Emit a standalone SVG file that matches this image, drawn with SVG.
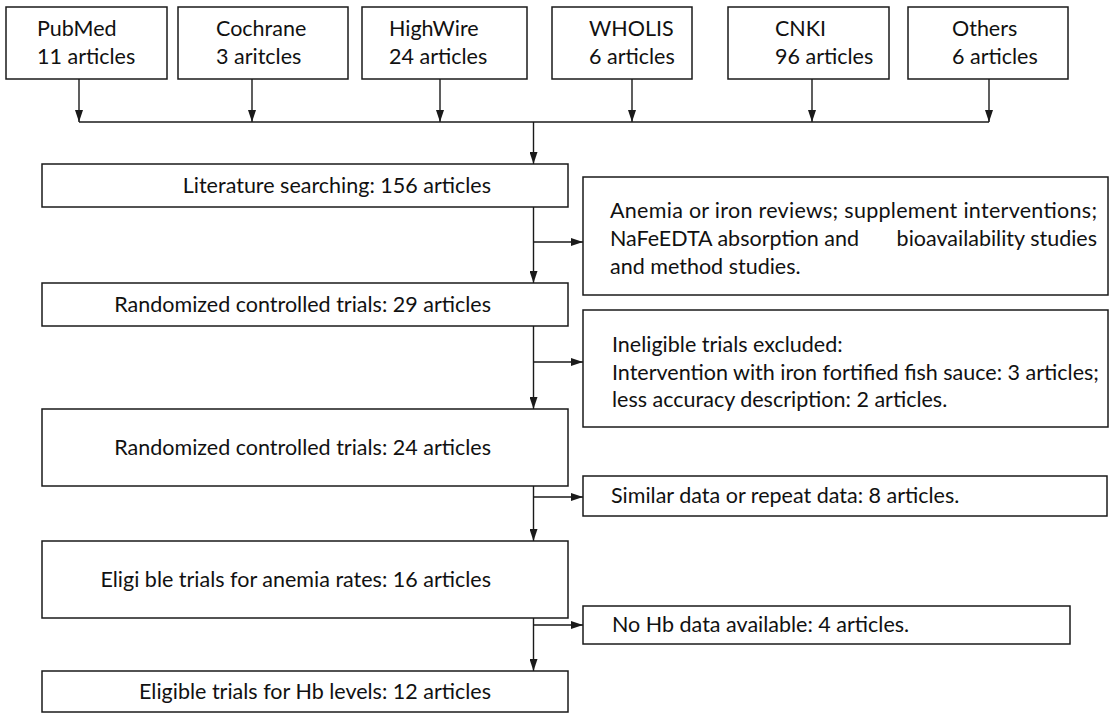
<svg xmlns="http://www.w3.org/2000/svg" width="1113" height="714" viewBox="0 0 1113 714">
<defs>
<style>
.box{fill:#fff;stroke:#1a1a1a;stroke-width:1.5}
.t{font-family:Lato,"Liberation Sans",sans-serif;font-size:21.5px;fill:#111}
.e{text-anchor:end}
.ln{fill:none;stroke:#1a1a1a;stroke-width:1.4}
</style>
<marker id="ah" markerWidth="12" markerHeight="8" refX="12" refY="4" orient="auto" markerUnits="userSpaceOnUse">
<path d="M0,0 L12,4 L0,8 Z" fill="#1a1a1a"/>
</marker>
</defs>
<rect width="1113" height="714" fill="#fff"/>
<g id="connectors">
<line class="ln" x1="79" y1="79" x2="79" y2="122" marker-end="url(#ah)"/>
<line class="ln" x1="252" y1="79" x2="252" y2="122" marker-end="url(#ah)"/>
<line class="ln" x1="440" y1="79" x2="440" y2="122" marker-end="url(#ah)"/>
<line class="ln" x1="632" y1="79" x2="632" y2="122" marker-end="url(#ah)"/>
<line class="ln" x1="812" y1="79" x2="812" y2="122" marker-end="url(#ah)"/>
<line class="ln" x1="989" y1="79" x2="989" y2="122" marker-end="url(#ah)"/>
<line class="ln" x1="79" y1="122" x2="989" y2="122"/>
<line class="ln" x1="533.5" y1="122" x2="533.5" y2="164" marker-end="url(#ah)"/>
<line class="ln" x1="533.5" y1="207" x2="533.5" y2="283" marker-end="url(#ah)"/>
<line class="ln" x1="533.5" y1="242" x2="583" y2="242" marker-end="url(#ah)"/>
<line class="ln" x1="533.5" y1="326" x2="533.5" y2="409" marker-end="url(#ah)"/>
<line class="ln" x1="533.5" y1="362" x2="583" y2="362" marker-end="url(#ah)"/>
<line class="ln" x1="533.5" y1="486" x2="533.5" y2="541" marker-end="url(#ah)"/>
<line class="ln" x1="533.5" y1="497" x2="583" y2="497" marker-end="url(#ah)"/>
<line class="ln" x1="533.5" y1="618" x2="533.5" y2="671" marker-end="url(#ah)"/>
<line class="ln" x1="533.5" y1="625" x2="583" y2="625" marker-end="url(#ah)"/>
</g>
<g id="pubmed"><rect class="box" x="6" y="7" width="161" height="72"/><text class="t" x="37" y="36">PubMed</text><text class="t" x="37" y="64">11 articles</text></g>
<g id="cochrane"><rect class="box" x="178" y="7" width="170" height="72"/><text class="t" x="216" y="36">Cochrane</text><text class="t" x="216" y="64">3 aritcles</text></g>
<g id="highwire"><rect class="box" x="362" y="7" width="165" height="72"/><text class="t" x="389" y="36">HighWire</text><text class="t" x="389" y="64">24 articles</text></g>
<g id="wholis"><rect class="box" x="552" y="7" width="140" height="72"/><text class="t" x="589" y="36">WHOLIS</text><text class="t" x="589" y="64">6 articles</text></g>
<g id="cnki"><rect class="box" x="728" y="7" width="161" height="72"/><text class="t" x="775" y="36">CNKI</text><text class="t" x="775" y="64">96 articles</text></g>
<g id="others"><rect class="box" x="908" y="7" width="160" height="72"/><text class="t" x="952" y="36">Others</text><text class="t" x="952" y="64">6 articles</text></g>
<g id="lit"><rect class="box" x="42" y="164" width="526" height="43"/><text class="t e" x="491" y="193">Literature searching: 156 articles</text></g>
<g id="rct29"><rect class="box" x="42" y="283" width="526" height="43"/><text class="t e" x="491" y="312">Randomized controlled trials: 29 articles</text></g>
<g id="rct24"><rect class="box" x="42" y="409" width="526" height="77"/><text class="t e" x="491" y="455">Randomized controlled trials: 24 articles</text></g>
<g id="anemia"><rect class="box" x="42" y="541" width="526" height="77"/><text class="t e" x="491" y="587">Eligi ble trials for anemia rates: 16 articles</text></g>
<g id="hb"><rect class="box" x="42" y="671" width="526" height="41"/><text class="t e" x="491" y="699">Eligible trials for Hb levels: 12 articles</text></g>
<g id="excl1"><rect class="box" x="583" y="177" width="525" height="118"/>
<text class="t" x="610" y="218" textLength="487" lengthAdjust="spacing">Anemia or iron reviews; supplement interventions;</text>
<text class="t" x="610" y="246">NaFeEDTA absorption and</text><text class="t e" x="1097" y="246">bioavailability studies</text>
<text class="t" x="610" y="274">and method studies.</text></g>
<g id="excl2"><rect class="box" x="583" y="310" width="525" height="117"/>
<text class="t" x="612" y="352">Ineligible trials excluded:</text>
<text class="t" x="612" y="380">Intervention with iron fortified fish sauce: 3 articles;</text>
<text class="t" x="612" y="407">less accuracy description: 2 articles.</text></g>
<g id="excl3"><rect class="box" x="583" y="476" width="524" height="40"/><text class="t" x="611" y="503">Similar data or repeat data: 8 articles.</text></g>
<g id="excl4"><rect class="box" x="583" y="606" width="487" height="38"/><text class="t" x="612" y="632">No Hb data available: 4 articles.</text></g>
</svg>
